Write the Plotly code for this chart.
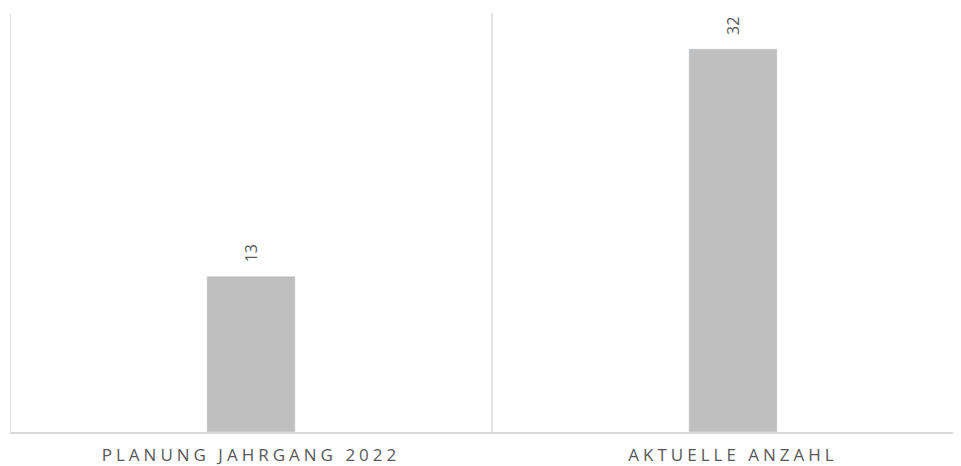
import plotly.graph_objects as go

categories = ["PLANUNG JAHRGANG 2022", "AKTUELLE ANZAHL"]
values = [13, 32]

fig = go.Figure()
fig.add_trace(go.Bar(
    x=categories, y=values,
    marker_color="#BFBFBF", width=0.183,
))
for c, v in zip(categories, values):
    fig.add_annotation(x=c, y=v, text=str(v), textangle=-90, showarrow=False,
                       yanchor="bottom", yshift=12,
                       font=dict(family="Open Sans", size=16, color="#595959"))
n = len(categories)
for i in range(n):
    fig.add_shape(type="line", xref="x", yref="paper", x0=i - 0.5, x1=i - 0.5,
                  y0=0, y1=1, line=dict(color="#D9D9D9", width=1.5))
fig.update_layout(
    width=953, height=458,
    margin=dict(l=2, r=0, t=5, b=34),
    plot_bgcolor="white", paper_bgcolor="white",
    showlegend=False,
    xaxis=dict(range=[-0.5, n - 0.5 - 13 / 482], showgrid=False, showline=True,
               linecolor="#D9D9D9", linewidth=1.5, ticks="",
               tickvals=categories,
               ticktext=['<span style="letter-spacing:4px">%s</span>' % c for c in categories],
               ticklabelstandoff=7,
               tickfont=dict(family="Open Sans", size=17, color="#595959")),
    yaxis=dict(range=[0, 35], visible=False),
)
fig.write_html("out.html")
